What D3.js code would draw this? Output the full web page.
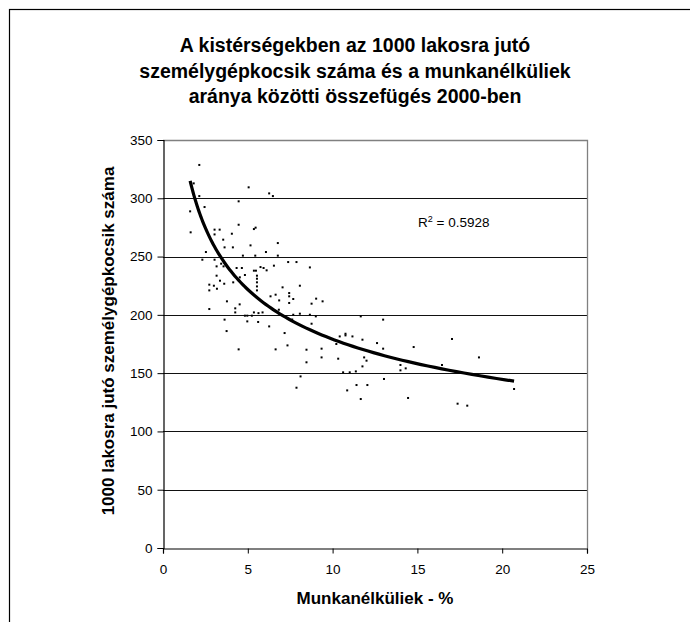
<!DOCTYPE html>
<html><head><meta charset="utf-8">
<script src="https://cdn.jsdelivr.net/npm/d3@7"></script>
<style>
body{margin:0;background:#fff}
text{font-family:"Liberation Sans",Arial,Helvetica,sans-serif;fill:#000}
</style>
</head><body>
<svg id="chart" width="690" height="622"></svg>
<script>
// ---------- data ----------
const titleLines = [
  "A kistérségekben az 1000 lakosra jutó",
  "személygépkocsik száma és a munkanélküliek",
  "aránya közötti összefügés 2000-ben"
];
const xAxisTitle = "Munkanélküliek - %";
const yAxisTitle = "1000 lakosra jutó személygépkocsik száma";
const xTicks = [0, 5, 10, 15, 20, 25];
const yTicks = [0, 50, 100, 150, 200, 250, 300, 350];
const r2Value = "0.5928";
// power trendline y = coef * x^exp
const trendCoef = 364;
const trendExp = -0.308;

// unemployment rate (%) of each micro-region
const unemployment = [
  2.14,1.81,5.05,6.26,6.48,2.14,4.46,1.6,2.45,4.46,1.63,3.04,3.34,3.04,5.46,5.36,4.06,3.55,5.16,6.77,
  3.63,4.12,2.53,6.07,4.71,5.44,6.77,
  2.32,3.04,3.43,3.16,3.57,4.34,4.65,5.75,5.93,6.11,6.54,7.38,7.87,5.36,5.48,4.83,4.53,3.16,3.36,2.73,
  3.0,2.73,3.18,3.61,4.14,5.54,5.54,5.54,5.54,5.54,7.05,7.44,7.44,6.34,6.64,6.85,7.44,7.68,3.77,4.52,
  4.26,4.26,2.73,4.83,4.97,5.24,5.36,5.63,5.87,4.97,5.61,3.63,3.75,6.26,7.17,7.34,4.46,6.64,7.87,
  8.66,8.07,9.03,8.76,9.41,9.01,11.66,6.83,7.62,
  7.68,8.07,8.66,12.98,8.76,10.42,10.76,10.76,11.17,10.22,11.76,12.62,9.35,8.46,12.98,14.78,9.35,10.33,
  11.86,12.0,8.46,11.76,14.0,14.31,14.0,10.62,11.01,11.37,8.11,13.03,11.41,12.05,10.86,11.66,14.45,
  17.04,18.63,16.45,20.7,17.37,17.94
];
// passenger cars per 1000 inhabitants
const carsPer1000 = [
  328.6,312.8,309.4,304.2,301.9,301.9,297.4,288.8,292.5,277.3,270.8,273.1,273.1,269.0,274.8,273.6,269.6,264.5,259.6,261.6,
  257.9,257.9,253.9,253.9,250.8,250.8,250.8,
  247.3,247.3,243.9,241.6,241.6,240.2,240.2,241.0,240.2,238.2,242.2,245.3,245.3,237.9,237.9,234.2,232.2,233.6,229.3,225.9,
  225.0,221.0,222.4,226.7,227.9,233.6,231.0,227.9,224.4,221.0,223.6,218.7,215.9,215.9,217.3,212.4,210.2,213.6,211.6,209.0,
  205.6,202.1,205.0,199.3,199.3,199.3,202.1,201.5,202.1,194.4,193.9,195.9,186.1,190.1,184.4,173.8,170.4,170.4,137.5,
  240.7,225.0,213.9,209.6,211.6,198.7,198.7,204.4,196.0,
  200.1,201.0,200.1,195.9,192.4,181.5,183.8,182.4,181.5,175.0,178.7,175.8,171.0,170.1,171.0,172.4,163.5,162.4,
  163.5,160.7,159.3,155.8,157.0,154.1,152.4,150.7,150.7,151.5,147.2,145.0,139.8,139.8,135.2,127.8,128.7,
  179.3,163.5,157.0,136.4,123.8,122.1
];

// ---------- layout ----------
const svg = d3.select("#chart");
const W = 690, H = 622;
const plot = {left: 163, right: 587, top: 140, bottom: 548};
const FONT = "Liberation Sans, Arial, sans-serif";

svg.append("rect").attr("width", W).attr("height", H).attr("fill", "#fff");
// outer chart border (only top & left visible in frame)
svg.append("rect").attr("x", 9.5).attr("y", 9.5).attr("width", 760).attr("height", 700)
  .attr("fill", "none").attr("stroke", "#000").attr("stroke-width", 1.2);

const x = d3.scaleLinear().domain([0, 25]).range([plot.left, plot.right]);
const y = d3.scaleLinear().domain([0, 350]).range([plot.bottom, plot.top]);

// gridlines
svg.append("g").selectAll("line").data(yTicks.filter(d => d > 0 && d < 350)).join("line")
  .attr("x1", plot.left).attr("x2", plot.right)
  .attr("y1", d => Math.round(y(d)) + 0.5).attr("y2", d => Math.round(y(d)) + 0.5)
  .attr("stroke", "#111").attr("stroke-width", 1);

// plot area border (top/right grey)
svg.append("path")
  .attr("d", `M${plot.left},${Math.round(y(350))+0.5}H${Math.round(x(25))+0.5}V${plot.bottom}`)
  .attr("fill", "none").attr("stroke", "#808080").attr("stroke-width", 1.3);

// axes
const yAxis = d3.axisLeft(y).tickValues(yTicks).tickSize(6).tickPadding(5).tickFormat(d3.format("d"));
const gy = svg.append("g").attr("transform", `translate(${plot.left + 0.5},0)`).call(yAxis);
const xAxis = d3.axisBottom(x).tickValues(xTicks).tickSize(5).tickPadding(11).tickFormat(d3.format("d"));
const gx = svg.append("g").attr("transform", `translate(0,${plot.bottom + 0.5})`).call(xAxis);
[gx, gy].forEach(g => {
  g.select(".domain").attr("stroke", "#000").attr("stroke-width", 1.2);
  g.selectAll(".tick line").attr("stroke", "#000");
  g.selectAll(".tick text").attr("font-size", 13.5).attr("font-family", FONT).attr("fill", "#000");
});

// scatter points
const pts = unemployment.map((u, i) => ({u, c: carsPer1000[i]}));
svg.append("g").selectAll("rect").data(pts).join("rect")
  .attr("x", d => x(d.u) - 1).attr("y", d => y(d.c) - 1)
  .attr("width", 2).attr("height", 2).attr("fill", "#000");

// power trendline over the data's x range
const [xmin, xmax] = d3.extent(unemployment);
const trendX = d3.range(0, 101).map(i => xmin * Math.pow(xmax / xmin, i / 100));
svg.append("path").datum(trendX)
  .attr("d", d3.line().x(u => x(u)).y(u => y(trendCoef * Math.pow(u, trendExp))))
  .attr("fill", "none").attr("stroke", "#000").attr("stroke-width", 3.2);

// R² label
const r2 = svg.append("text").attr("x", 418).attr("y", 227).attr("font-size", 13.5);
r2.append("tspan").text("R");
r2.append("tspan").text("2").attr("font-size", 9).attr("dy", -5);
r2.append("tspan").text(" = " + r2Value).attr("dy", 5);

// title
svg.append("g").selectAll("text").data(titleLines).join("text")
  .attr("x", 355).attr("y", (d, i) => 52 + i * 25.5)
  .attr("text-anchor", "middle").attr("font-weight", "bold").attr("font-size", 19.5)
  .text(d => d);

// axis titles
svg.append("text").attr("x", 375).attr("y", 604).attr("text-anchor", "middle")
  .attr("font-weight", "bold").attr("font-size", 17).text(xAxisTitle);
svg.append("text").attr("transform", "translate(114,341) rotate(-90)").attr("text-anchor", "middle")
  .attr("font-weight", "bold").attr("font-size", 17).text(yAxisTitle);
</script>
</body></html>
